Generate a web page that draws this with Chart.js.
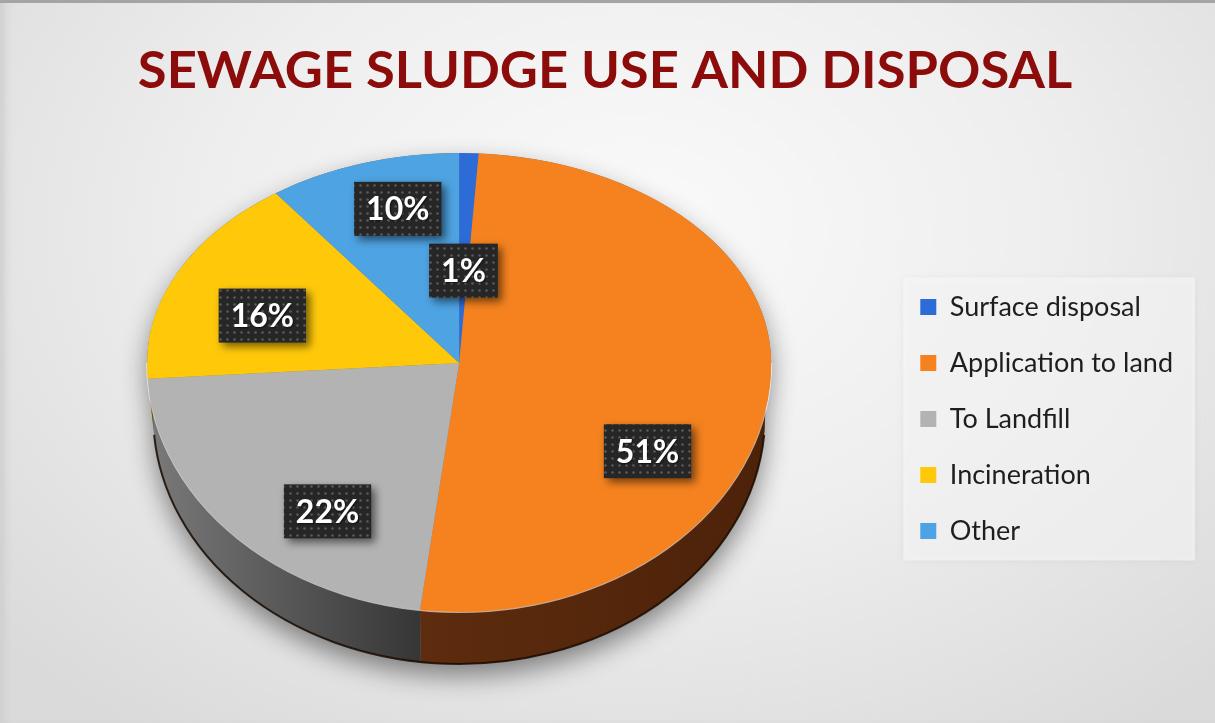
<!DOCTYPE html>
<html>
<head>
<meta charset="utf-8">
<title>Sewage sludge use and disposal</title>
<script src="https://cdn.jsdelivr.net/npm/chart.js@4.4.1/dist/chart.umd.min.js"></script>
<style>
  html, body { margin: 0; padding: 0; }
  body { width: 1215px; height: 723px; overflow: hidden; }
  #wrap {
    position: relative; width: 1215px; height: 723px;
    background: radial-gradient(ellipse 70% 85% at 52% 32%, #fafafa 0%, #eeeeee 50%, #dadada 100%);
    box-shadow: inset 0 3px 0 #a4a4a4, inset 9px 0 8px -4px #cfcfcf;
  }
  canvas { display: block; }
</style>
</head>
<body>
<div id="wrap"><canvas id="sludgeChart" width="1215" height="723"></canvas></div>
<script>
  // Shares of sewage sludge by route (percent)
  const categories = ["Surface disposal", "Application to land", "To Landfill", "Incineration", "Other"];
  const shares = [1, 51, 22, 16, 10];

  const sliceColors = ["#2d6bd6", "#f5821f", "#b3b3b3", "#ffc90a", "#4ea3e2"];
  // side wall shading, [outer edge, inner edge]
  const sideShades = [
    ["#173a78", "#173a78"],
    ["#4c2209", "#5e2c0e"],
    ["#7a7a7a", "#363636"],
    ["#7d6200", "#6b5400"],
    ["#25577f", "#25577f"],
  ];
  // where each percentage box sits: [turn from slice middle in degrees, fraction of radius]
  const labelSpots = [[0, 0.44], [25, 0.7], [-11.5, 0.73], [-5.5, 0.67], [3, 0.76]];

  const PIE_RADIUS = 312;
  const FAR_SQUASH = 0.673;   // back half of the tilted top
  const NEAR_SQUASH = 0.798;  // front half of the tilted top
  const DEPTH = 52;
  const BASE_INSET = 6;

  // dotted dark fill for the percentage boxes
  function makeDotPattern(ctx) {
    const c = document.createElement("canvas");
    c.width = 7; c.height = 7;
    const p = c.getContext("2d");
    p.fillStyle = "#262626";
    p.fillRect(0, 0, 7, 7);
    p.fillStyle = "#5a5a5a";
    p.beginPath();
    p.arc(3.5, 3.5, 1.3, 0, Math.PI * 2);
    p.fill();
    return ctx.createPattern(c, "repeat");
  }

  // draws the pie as a tilted disc with a visible wall at the front
  const pie3d = {
    id: "pie3d",
    beforeDraw(chart) {
      // pale panel behind the legend
      const ctx = chart.ctx;
      const lg = chart.legend;
      ctx.save();
      ctx.shadowColor = "rgba(0,0,0,0.07)";
      ctx.shadowBlur = 8;
      ctx.fillStyle = "rgba(248,248,248,0.6)";
      ctx.fillRect(lg.left + 12, lg.bottom - 296, lg.right - lg.left, 283);
      ctx.restore();
    },
    beforeDatasetDraw(chart, args) {
      const ctx = chart.ctx;
      const arcs = args.meta.data;
      const { x: cx, y: cy, outerRadius: r } = arcs[0];
      const ryFar = r * FAR_SQUASH, ryNear = r * NEAR_SQUASH;

      // soft shadow under the whole disc
      ctx.save();
      ctx.shadowColor = "rgba(0,0,0,0.45)";
      ctx.shadowBlur = 26;
      ctx.shadowOffsetY = 12;
      ctx.fillStyle = "#777";
      ctx.beginPath();
      ctx.ellipse(cx, cy, r, ryFar, 0, Math.PI, Math.PI * 2);
      ctx.ellipse(cx, cy + DEPTH, r - BASE_INSET, ryNear, 0, 0, Math.PI);
      ctx.closePath();
      ctx.fill();
      ctx.restore();

      // side walls, only the near half of the rim is visible
      arcs.forEach((arc, i) => {
        const a0 = Math.max(arc.startAngle, 0);
        const a1 = Math.min(arc.endAngle, Math.PI);
        if (a1 <= a0) return;
        const xa = cx + r * Math.cos(a1), xb = cx + r * Math.cos(a0);
        const g = ctx.createLinearGradient(Math.min(xa, xb), 0, Math.max(xa, xb), 0);
        const outerLeft = Math.cos((a0 + a1) / 2) < 0;
        g.addColorStop(0, outerLeft ? sideShades[i][0] : sideShades[i][1]);
        g.addColorStop(1, outerLeft ? sideShades[i][1] : sideShades[i][0]);
        ctx.fillStyle = g;
        ctx.beginPath();
        ctx.ellipse(cx, cy, r, ryNear, 0, a0, a1);
        ctx.ellipse(cx, cy + DEPTH, r - BASE_INSET, ryNear, 0, a1, a0, true);
        ctx.closePath();
        ctx.fill();
      });

      // dark lower edge and light upper rim
      ctx.save();
      ctx.lineWidth = 2;
      ctx.strokeStyle = "rgba(25,10,0,0.85)";
      ctx.beginPath();
      ctx.ellipse(cx, cy + DEPTH, r - BASE_INSET, ryNear, 0, 0.08, Math.PI - 0.08);
      ctx.stroke();
      ctx.strokeStyle = "rgba(255,255,255,0.6)";
      ctx.beginPath();
      ctx.ellipse(cx, cy, r, ryNear, 0, 0, Math.PI);
      ctx.stroke();
      ctx.restore();

      // top face: back and front halves squashed by different amounts
      [[0, cy + 0.5, FAR_SQUASH], [cy, chart.height, NEAR_SQUASH]].forEach(([y0, y1, s]) => {
        ctx.save();
        ctx.beginPath();
        ctx.rect(0, y0, chart.width, y1 - y0);
        ctx.clip();
        ctx.translate(0, cy);
        ctx.scale(1, s);
        ctx.translate(0, -cy);
        arcs.forEach((arc) => arc.draw(ctx));
        ctx.restore();
      });
      return false;
    },
    afterDatasetsDraw(chart) {
      const ctx = chart.ctx;
      const arcs = chart.getDatasetMeta(0).data;
      const dots = makeDotPattern(ctx);
      ctx.save();
      ctx.font = "bold 32px Lato";
      ctx.textAlign = "center";
      ctx.textBaseline = "middle";
      arcs.forEach((arc, i) => {
        const [turn, dist] = labelSpots[i];
        const mid = (arc.startAngle + arc.endAngle) / 2 + (turn * Math.PI) / 180;
        const sin = Math.sin(mid);
        const x = arc.x + arc.outerRadius * dist * Math.cos(mid);
        const y = arc.y + arc.outerRadius * dist * sin * (sin < 0 ? FAR_SQUASH : NEAR_SQUASH);
        const text = shares[i] + "%";
        const w = ctx.measureText(text).width + 24;
        const h = 54;
        ctx.shadowColor = "rgba(0,0,0,0.55)";
        ctx.shadowBlur = 8;
        ctx.shadowOffsetX = 4;
        ctx.shadowOffsetY = 4;
        ctx.fillStyle = dots;
        ctx.fillRect(x - w / 2, y - h / 2, w, h);
        ctx.shadowColor = "rgba(0,0,0,0.6)";
        ctx.shadowBlur = 2;
        ctx.shadowOffsetX = 1;
        ctx.shadowOffsetY = 1;
        ctx.fillStyle = "#ffffff";
        ctx.fillText(text, x, y + 1);
      });
      ctx.restore();
    },
  };

  new Chart(document.getElementById("sludgeChart"), {
    type: "pie",
    data: {
      labels: categories,
      datasets: [
        {
          data: shares,
          backgroundColor: sliceColors,
          borderWidth: 0,
          radius: PIE_RADIUS,
        },
      ],
    },
    options: {
      responsive: false,
      animation: false,
      layout: { padding: { left: 27, right: 32, top: 0, bottom: 149.5 } },
      plugins: {
        title: {
          display: true,
          text: "SEWAGE SLUDGE USE AND DISPOSAL",
          color: "#8c0c0c",
          font: { family: "Lato", size: 52.5, weight: "bold", lineHeight: 1.2 },
          padding: { top: 40, bottom: 49.5 },
        },
        legend: {
          position: "right",
          align: "end",
          labels: {
            boxWidth: 16,
            boxHeight: 16,
            padding: 29,
            color: "#1e1e1e",
            font: { family: "Lato", size: 27 },
          },
        },
        tooltip: { enabled: false },
      },
    },
    plugins: [pie3d],
  });
</script>
</body>
</html>
